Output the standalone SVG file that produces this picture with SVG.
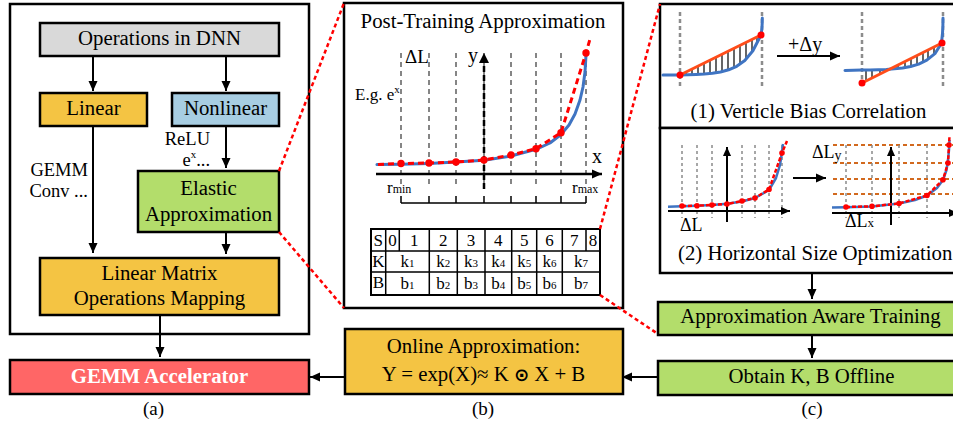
<svg xmlns="http://www.w3.org/2000/svg" width="953" height="423" viewBox="0 0 953 423">
<defs>
<style>
.t{font-family:"Liberation Serif","Times New Roman",serif;font-size:20.8px;fill:#000}
.c{text-anchor:middle}
.e{text-anchor:end}
.bx{stroke:#000;stroke-width:2.5}
.fr{fill:#fff;stroke:#000;stroke-width:2.5}
.ar{stroke:#000;stroke-width:2;fill:none;marker-end:url(#ah)}
.ars{stroke:#000;stroke-width:2;fill:none;marker-end:url(#ahs)}
.rd{stroke:#f00;stroke-width:2.5;stroke-dasharray:4 3;fill:none}
.gr{stroke:#858585;stroke-width:2;stroke-dasharray:5 4;fill:none}
.gs{stroke:#8a8a8a;stroke-width:1.5;stroke-dasharray:3 3;fill:none}
.bl{stroke:#3f74c2;stroke-width:3;fill:none;stroke-linejoin:round;stroke-linecap:round}
.bls{stroke:#3f74c2;stroke-width:2.5;fill:none;stroke-linejoin:round}
.rdl{stroke:#f00;stroke-width:3;stroke-dasharray:6 4;fill:none}
.rds{stroke:#f00;stroke-width:2.5;stroke-dasharray:4 2;fill:none}
.dot{fill:#f00}
.or{stroke:#ff4d1a;stroke-width:3;fill:none}
.oh{stroke:#d2691e;stroke-width:2;stroke-dasharray:4 3;fill:none}
.tb{fill:none;stroke:#000;stroke-width:1.5}
</style>
<marker id="ah" viewBox="0 0 10 10" refX="10" refY="5" markerWidth="10" markerHeight="10" markerUnits="userSpaceOnUse" orient="auto"><path d="M0,0.5 L10,5 L0,9.5 z" fill="#000"/></marker>
<marker id="ahs" viewBox="0 0 10 10" refX="10" refY="5" markerWidth="9" markerHeight="9" markerUnits="userSpaceOnUse" orient="auto"><path d="M0,0.5 L10,5 L0,9.5 z" fill="#000"/></marker>
</defs>
<rect width="953" height="423" fill="#fff"/>

<!-- panel frames -->
<g id="frame-a"><rect x="10" y="4" width="299" height="330" class="fr"/></g>
<g id="frame-b"><rect x="344" y="3" width="279" height="305" class="fr"/></g>

<!-- panel (a) nodes -->
<g id="ops"><rect x="40" y="23" width="239" height="33" fill="#d9d9d9" class="bx"/><text x="159.5" y="45" class="t c">Operations in DNN</text></g>
<g id="linear"><rect x="40" y="93" width="107" height="33" fill="#f4c443" class="bx"/><text x="93.5" y="115" class="t c">Linear</text></g>
<g id="nonlinear"><rect x="172" y="93" width="107" height="33" fill="#a7cde2" class="bx"/><text x="225.5" y="115" class="t c">Nonlinear</text></g>
<g id="elastic"><rect x="138" y="171" width="141" height="61" fill="#b3dd6b" class="bx"/><text x="208.5" y="195" class="t c">Elastic</text><text x="208.5" y="221" class="t c">Approximation</text></g>
<g id="lmom"><rect x="40" y="258" width="239" height="57" fill="#f4c443" class="bx"/><text x="159.5" y="280" class="t c">Linear Matrix</text><text x="159.5" y="305" class="t c">Operations Mapping</text></g>
<g id="gemm"><rect x="10" y="360" width="299" height="34" fill="#ff6666" class="bx"/><text x="159.5" y="383" class="t c" font-weight="bold" style="fill:#fff">GEMM Accelerator</text></g>
<g id="labels-a">
<text x="210" y="145" class="t e" style="font-size:18.5px">ReLU</text>
<text x="210" y="166" class="t e" style="font-size:18.5px">e<tspan dy="-8" style="font-size:11px">x</tspan><tspan dy="8">...</tspan></text>
<text x="88" y="176" class="t e" style="font-size:18.5px">GEMM</text>
<text x="88" y="197" class="t e" style="font-size:18.5px">Conv ...</text>
<text x="153.5" y="415" class="t c" style="font-size:19px">(a)</text>
</g>

<!-- panel (b) -->
<g id="plot-b">
<text x="483" y="28" class="t c">Post-Training Approximation</text>
<path class="gr" d="M401,53V184M429,53V184M456,53V184M484,53V184M511,53V184M536,53V184M561,53V184M586,53V184"/>
<line x1="484" y1="189" x2="484" y2="57" stroke="#000" stroke-width="2.5" stroke-dasharray="6 3"/>
<path d="M484,53 L479,63 L489,63 z" fill="#000"/>
<path class="ar" d="M376,174H602" style="stroke-width:2.5"/>
<path class="bl" d="M377,164.6 L401,164.2 L429,163.4 L456,162.1 L484,160.2 L511,156 L536,149.3 L550,143 L561,134.5 L569,125 L575,114 L580,100 L583,87 L585,72 L586,55"/>
<path class="rdl" d="M378,164.6 L401,163.5 L429,163 L456,162 L484,160 L511,155 L536,148.7 L561,132.7 L586,53 L590,39"/>
<g class="dot"><circle cx="401" cy="163.5" r="3.7"/><circle cx="429" cy="163" r="3.7"/><circle cx="456" cy="162" r="3.7"/><circle cx="484" cy="160" r="3.7"/><circle cx="511" cy="155" r="3.7"/><circle cx="536" cy="148.7" r="3.7"/><circle cx="561" cy="132.7" r="3.7"/><circle cx="586" cy="53" r="3.7"/></g>
<path stroke="#000" stroke-width="1.5" fill="none" d="M401,203H586M401,196V203M429,196V203M456,196V203M484,196V203M511,196V203M536,196V203M561,196V203M586,196V203"/>
<text x="405" y="63" class="t" style="font-size:19px">ΔL</text>
<text x="468" y="62" class="t" style="font-size:20px">y</text>
<text x="355" y="100" class="t" style="font-size:17px">E.g. e<tspan dy="-7" style="font-size:11px">x</tspan></text>
<text x="592" y="163" class="t" style="font-size:20px">x</text>
<text x="387" y="193" class="t" style="font-size:17px">r<tspan style="font-size:12px">min</tspan></text>
<text x="572" y="193" class="t" style="font-size:17px">r<tspan style="font-size:12px">max</tspan></text>
</g>
<g id="table-b">
<rect x="371" y="229" width="229" height="66" fill="#fff" stroke="#000" stroke-width="2"/>
<path class="tb" d="M371,251H600M371,272H600M385.7,229V295M399.3,229V251M429.3,229V295M457.3,229V295M485,229V295M511.7,229V295M536.7,229V295M562.3,229V295M586,229V251"/>
<g class="t c" style="font-size:17px">
<text x="378.3" y="246">S</text><text x="392.5" y="246">0</text><text x="414.3" y="246">1</text><text x="443.3" y="246">2</text><text x="471" y="246">3</text><text x="498.3" y="246">4</text><text x="524.2" y="246">5</text><text x="549.5" y="246">6</text><text x="574.2" y="246">7</text><text x="593" y="246">8</text>
<text x="378.3" y="267">K</text><text x="407.5" y="267">k<tspan style="font-size:11px">1</tspan></text><text x="443.3" y="267">k<tspan style="font-size:11px">2</tspan></text><text x="471" y="267">k<tspan style="font-size:11px">3</tspan></text><text x="498.3" y="267">k<tspan style="font-size:11px">4</tspan></text><text x="524.2" y="267">k<tspan style="font-size:11px">5</tspan></text><text x="549.5" y="267">k<tspan style="font-size:11px">6</tspan></text><text x="581" y="267">k<tspan style="font-size:11px">7</tspan></text>
<text x="378.3" y="288">B</text><text x="407.5" y="289">b<tspan style="font-size:11px">1</tspan></text><text x="443.3" y="289">b<tspan style="font-size:11px">2</tspan></text><text x="471" y="289">b<tspan style="font-size:11px">3</tspan></text><text x="498.3" y="289">b<tspan style="font-size:11px">4</tspan></text><text x="524.2" y="289">b<tspan style="font-size:11px">5</tspan></text><text x="549.5" y="289">b<tspan style="font-size:11px">6</tspan></text><text x="581" y="289">b<tspan style="font-size:11px">7</tspan></text>
</g>
</g>
<g id="online"><rect x="345" y="329" width="278" height="65" fill="#f4c443" class="bx"/><text x="483.5" y="353" class="t c">Online Approximation:</text><text x="483.5" y="381" class="t c">Y = exp(X)≈ K <tspan style="font-family:'DejaVu Sans',sans-serif;font-weight:bold;font-size:18px">⊙</tspan> X + B</text></g>
<text x="483" y="415" class="t c" style="font-size:19px">(b)</text>

<!-- panel (c) -->
<g id="vbc">
<rect x="660" y="4" width="302" height="124" class="fr"/>
<path stroke="#8c8c8c" stroke-width="2.5" stroke-dasharray="4 3" fill="none" d="M680,12V88M762,12V88M862,12V88M943,12V88"/>
<path stroke="#000" stroke-width="1.2" fill="none" d="M686,72V74.9M692,69.1V74.7M698,66.1V74.4M704,63.1V74.1M710,60.2V73.5M716,57.2V72.8M722,54.3V71.7M728,51.3V70M734,48.3V67.7M740,45.4V64.3M746,42.4V59.4M752,39.4V52.2M757,37V43.9M866,70V81M872,69.9V78M880,69.6V74M898,65V68.5M905,61.5V67.6M911,58.5V66.4M917,55.5V64.7M923,52.5V62.2M928,50V59.4M934,47V54.6"/>
<path class="bl" d="M663,75 L680,75 L688.1,74.8 L696.2,74.5 L704.3,74.1 L712.4,73.3 L720.5,72 L728.6,69.8 L736.7,66.3 L744.8,60.5 L752.9,50.8 L761,35 C762,30 762.3,25 762.3,18"/>
<path class="bl" d="M845,70.5 L862,70 L870.1,69.9 L878.2,69.7 L886.3,69.4 L894.4,68.8 L902.5,67.95 L910.6,66.5 L918.7,64.1 L926.8,60.2 L934.9,53.7 L941,44 C942.5,38 943,30 943,18"/>
<path class="or" d="M680,75 L761,35M862,83 L942,43"/>
<g class="dot"><circle cx="680" cy="75" r="3.5"/><circle cx="761" cy="35" r="3.5"/><circle cx="862" cy="83" r="3.5"/><circle cx="942" cy="43" r="3.5"/></g>
<path class="ar" d="M777,56H840"/>
<text x="788" y="51" class="t" style="font-size:20px">+Δy</text>
<text x="808.5" y="118" class="t c">(1) Verticle Bias Correlation</text>
</g>
<g id="hso">
<rect x="660" y="128" width="302" height="145" class="fr"/>
<path class="gs" d="M682,145V218M697,145V218M712,145V218M742,145V218M755,145V218M769,145V218M782,145V218"/>
<path class="ars" d="M668,211H790"/>
<path class="ars" d="M727,222V147"/>
<path class="bls" d="M668,206.7 L682,206.3 L697,205.8 L712,205 L727,203.8 L742,201.5 L755,198 L769,190 L776,178 L780,165 L782,152 L783,144"/>
<path class="rds" d="M682,206 L697,205.7 L712,205 L727,204 L742,201 L755,198 L769,189.5 L782,153 L787,141"/>
<g class="dot"><circle cx="682" cy="206" r="2.8"/><circle cx="697" cy="205.7" r="2.8"/><circle cx="712" cy="205" r="2.8"/><circle cx="727" cy="204" r="2.8"/><circle cx="742" cy="201" r="2.8"/><circle cx="755" cy="198" r="2.8"/><circle cx="769" cy="189.5" r="2.8"/><circle cx="782" cy="153" r="2.8"/></g>
<text x="680" y="231" class="t" style="font-size:18px">ΔL</text>
<path class="ar" d="M793,178H826"/>
<path class="oh" d="M833,145H960M833,163H960M833,179H960M833,194H960"/>
<path class="gs" d="M846,145V218M872,145V218M899,145V218M927,145V218"/>
<path class="ars" d="M832,213H958"/>
<path class="ars" d="M891,225V147"/>
<path class="bls" d="M832,207.5 L846,207.2 L872,206.5 L899,203.5 L915,200 L927,195.5 L937,188 L943,180 L946.5,170 L948,160 L949,150 L949.5,140"/>
<path class="rds" d="M846,207 L872,206.3 L899,203.5 L927,195.5 L943,179.7 L948,163 L949,145 L949.5,136"/>
<g class="dot"><circle cx="846" cy="207" r="2.8"/><circle cx="872" cy="206.3" r="2.8"/><circle cx="899" cy="203.5" r="2.8"/><circle cx="927" cy="195.5" r="2.8"/><circle cx="943" cy="179.7" r="2.8"/><circle cx="948" cy="163" r="2.8"/><circle cx="949" cy="145" r="2.8"/></g>
<text x="812" y="158" class="t" style="font-size:18px">ΔL<tspan dy="2" style="font-size:14px">y</tspan></text>
<text x="845" y="227" class="t" style="font-size:18px">ΔL<tspan style="font-size:13px">x</tspan></text>
<text x="678" y="260" class="t">(2) Horizontal Size Optimization</text>
</g>
<g id="aat"><rect x="658" y="302" width="305" height="33" fill="#b3dd6b" class="bx"/><text x="810.5" y="323" class="t c">Approximation Aware Training</text></g>
<g id="obtain"><rect x="658" y="361" width="305" height="34" fill="#b3dd6b" class="bx"/><text x="811.5" y="383" class="t c">Obtain K, B Offline</text></g>
<text x="812" y="415" class="t c" style="font-size:19px">(c)</text>

<!-- connectors -->
<g id="connectors">
<path class="ar" d="M93,56V91"/>
<path class="ar" d="M226,56V91"/>
<path class="ar" d="M93,126V253"/>
<path class="ar" d="M226,126V168"/>
<path class="ar" d="M226,232V254"/>
<path class="ar" d="M160,315V357"/>
<path class="ar" d="M345,377H310"/>
<path class="ar" d="M658,377H622"/>
<path class="ar" d="M812,273V299"/>
<path class="ar" d="M812,335V358"/>
<path class="rd" d="M279,171L344,3"/>
<path class="rd" d="M279,232L344,308"/>
<path class="rd" d="M600,229L660,4"/>
<path class="rd" d="M600,295L658,334"/>
</g>
</svg>
